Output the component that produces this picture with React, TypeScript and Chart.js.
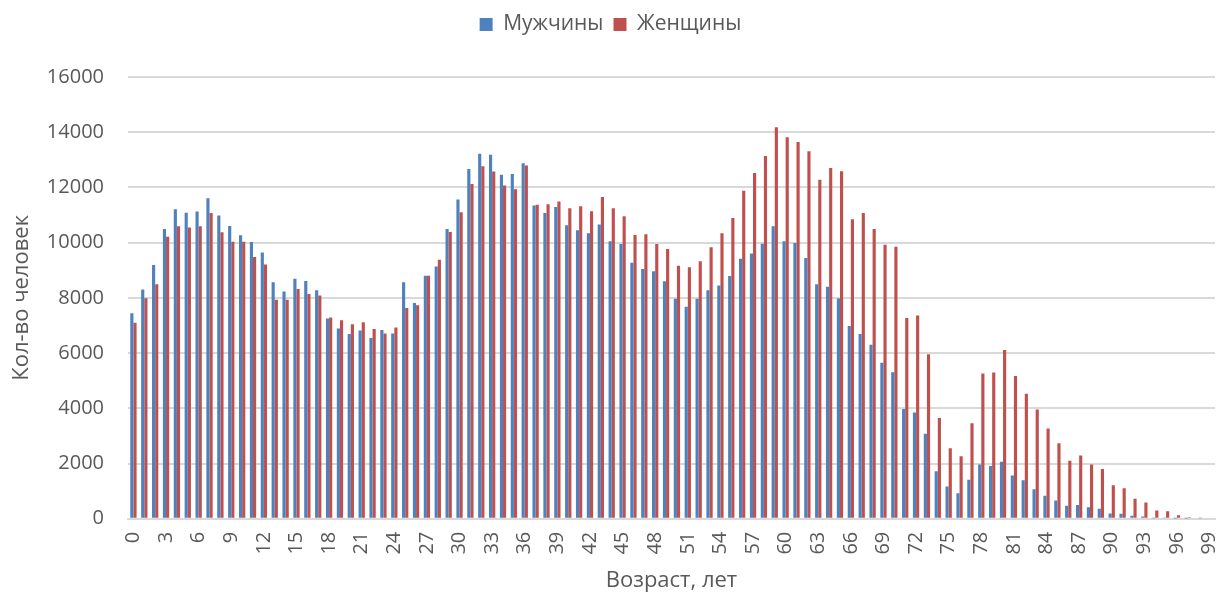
import React, { useEffect, useRef } from "react";
import { Chart, registerables } from "chart.js";

Chart.register(...registerables);

const ages: string[] = [
  "0","1","2","3","4","5","6","7","8","9","10","11","12","13","14","15","16","17","18","19",
  "20","21","22","23","24","25","26","27","28","29","30","31","32","33","34","35","36","37","38","39",
  "40","41","42","43","44","45","46","47","48","49","50","51","52","53","54","55","56","57","58","59",
  "60","61","62","63","64","65","66","67","68","69","70","71","72","73","74","75","76","77","78","79",
  "80","81","82","83","84","85","86","87","88","89","90","91","92","93","94","95","96","97","98","99",
];

const men: number[] = [
  7440, 8300, 9190, 10490, 11210, 11080, 11130, 11610, 10980, 10600,
  10270, 10020, 9640, 8570, 8230, 8690, 8610, 8280, 7250, 6890,
  6690, 6820, 6550, 6840, 6710, 8570, 7810, 8800, 9140, 10490,
  11560, 12670, 13220, 13180, 12460, 12490, 12880, 11350, 11070, 11290,
  10630, 10450, 10340, 10660, 10050, 9950, 9270, 9050, 8960, 8600,
  7970, 7680, 7970, 8280, 8450, 8790, 9420, 9610, 9960, 10590,
  10050, 9990, 9440, 8490, 8400, 7980, 6980, 6690, 6300, 5650,
  5310, 3970, 3850, 3080, 1720, 1170, 920, 1410, 1960, 1910,
  2060, 1570, 1390, 1070, 830, 660, 470, 500, 420, 360,
  190, 180, 110, 80, 15, 25, 10, 5, 0, 0,
];

const women: number[] = [
  7100, 7990, 8490, 10210, 10590, 10550, 10590, 11070, 10380, 10030,
  10030, 9480, 9210, 7930, 7930, 8320, 8140, 8090, 7290, 7190,
  7040, 7120, 6870, 6710, 6930, 7630, 7730, 8800, 9380, 10390,
  11100, 12120, 12770, 12580, 12070, 11930, 12790, 11370, 11390, 11490,
  11250, 11320, 11140, 11650, 11250, 10960, 10280, 10300, 9950, 9770,
  9160, 9110, 9330, 9830, 10340, 10890, 11880, 12520, 13140, 14180,
  13820, 13650, 13310, 12280, 12700, 12590, 10850, 11070, 10490, 9920,
  9850, 7270, 7360, 5960, 3650, 2550, 2260, 3460, 5260, 5300,
  6110, 5170, 4530, 3960, 3270, 2730, 2100, 2290, 1960, 1800,
  1210, 1100, 720, 590, 300, 270, 130, 50, 15, 0,
];

const seriesNames: string[] = ["Мужчины", "Женщины"];
const yTicks: number[] = [0, 2000, 4000, 6000, 8000, 10000, 12000, 14000, 16000];
const xTitle = "Возраст, лет";
const yTitle = "Кол-во человек";

const FONT = "'Open Sans', sans-serif";
const TEXT = "#595959";
const GRID = "#d9d9d9";

const legendGap = {
  id: "legendGap",
  beforeInit(chart: any) {
    const legend = chart.legend;
    if (!legend) return;
    const origFit = legend.fit;
    legend.fit = function () {
      origFit.call(this);
      this.height += 32;
    };
  },
};

export default function App() {
  const ref = useRef<HTMLCanvasElement | null>(null);

  useEffect(() => {
    if (!ref.current) return;
    const chart = new Chart(ref.current, {
      type: "bar",
      data: {
        labels: ages,
        datasets: [
          {
            label: seriesNames[0],
            data: men,
            backgroundColor: "#4F81BD",
            barPercentage: 1,
            categoryPercentage: 0.58,
          },
          {
            label: seriesNames[1],
            data: women,
            backgroundColor: "#C0504D",
            barPercentage: 1,
            categoryPercentage: 0.58,
          },
        ],
      },
      plugins: [legendGap],
      options: {
        animation: false,
        responsive: true,
        maintainAspectRatio: false,
        layout: { padding: { left: 6, right: 2, top: 4, bottom: 0 } },
        plugins: {
          legend: {
            position: "top",
            labels: {
              boxWidth: 13,
              boxHeight: 13,
              padding: 10,
              color: TEXT,
              font: { family: FONT, size: 21 },
            },
          },
          tooltip: { enabled: false },
        },
        scales: {
          x: {
            afterFit: (scale: any) => {
              scale.paddingRight = 0;
              scale.paddingLeft = 0;
            },
            grid: { display: false, drawTicks: false },
            border: { display: true, color: GRID, width: 2 },
            ticks: {
              autoSkip: false,
              maxRotation: 90,
              minRotation: 90,
              padding: 13,
              color: TEXT,
              font: { family: FONT, size: 20 },
              callback: function (this: any, value: any, index: number) {
                return index % 3 === 0 ? this.getLabelForValue(value) : "";
              },
            },
            title: {
              display: true,
              text: xTitle,
              color: TEXT,
              font: { family: FONT, size: 22 },
              padding: { top: 0, bottom: 0 },
            },
          },
          y: {
            min: yTicks[0],
            max: yTicks[yTicks.length - 1],
            afterBuildTicks: (axis: any) => {
              axis.ticks = yTicks.map((v) => ({ value: v }));
            },
            afterFit: (scale: any) => {
              scale.width = 122;
            },
            grid: { color: GRID, lineWidth: 2, drawTicks: false },
            border: { display: false },
            ticks: {
              padding: 24,
              color: TEXT,
              font: { family: FONT, size: 20 },
              callback: (v: any) => String(v),
            },
            title: {
              display: true,
              text: yTitle,
              color: TEXT,
              font: { family: FONT, size: 22 },
              padding: { top: 3, bottom: 10 },
            },
          },
        },
      },
    });
    return () => chart.destroy();
  }, []);

  return (
    <div style={{ position: "fixed", left: 0, top: 0, width: 1217, height: 594, background: "#fff" }}>
      <canvas ref={ref} />
    </div>
  );
}
